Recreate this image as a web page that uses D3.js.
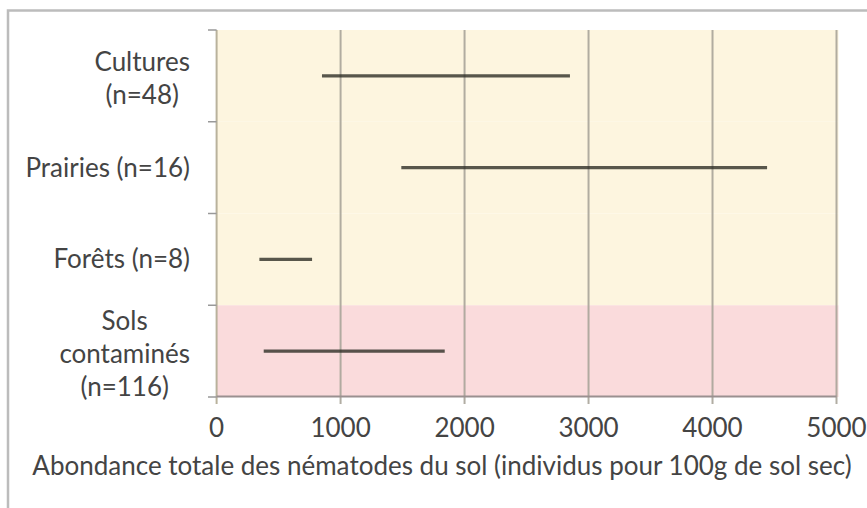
<!DOCTYPE html>
<html>
<head>
<meta charset="utf-8">
<style>
    body { margin: 0; background: #fff; }
    text { font-family: Lato, "Open Sans", sans-serif; fill: #444; font-size: 26px; }
</style>
</head>
<body>
<svg width="867" height="508"></svg>
<script src="https://d3js.org/d3.v7.min.js"></script>
<script>
    // data
    var categories = [["Cultures", "(n=48)"], ["Prairies (n=16)"], ["Forêts (n=8)"], ["Sols", "contaminés", "(n=116)"]];
    var rangeMin = [850, 1490, 345, 380];
    var rangeMax = [2850, 4440, 770, 1840];
    var xTicks = [0, 1000, 2000, 3000, 4000, 5000];
    var bandColors = ["#fdf5df", "#fdf5df", "#fdf5df", "#fadbdc"];
    var xTitle = "Abondance totale des nématodes du sol (individus pour 100g de sol sec)";

    var svg = d3.select('svg');

    var x = d3.scaleLinear().domain([0, 5000]).range([216.6, 836.5]);
    var y = d3.scaleBand().domain(d3.range(categories.length)).range([30, 397]);

    // outer frame (cropped on the right and bottom)
    svg.append('path')
        .attr('d', 'M8,508 L8,10.5 L867,10.5')
        .attr('fill', 'none')
        .attr('stroke', '#bcbcbc')
        .attr('stroke-width', 2.5);

    // coloured bands
    svg.selectAll('rect.band').data(categories).enter().append('rect')
        .attr('class', 'band')
        .attr('x', x(0))
        .attr('width', x(5000) - x(0) + 2)
        .attr('y', function (d, i) { return y(i); })
        .attr('height', y.bandwidth())
        .attr('fill', function (d, i) { return bandColors[i]; });

    // vertical gridlines (and x tick marks)
    svg.selectAll('line.grid').data(xTicks.slice(1)).enter().append('line')
        .attr('class', 'grid')
        .attr('x1', function (d) { return x(d); })
        .attr('x2', function (d) { return x(d); })
        .attr('y1', 30)
        .attr('y2', 404)
        .attr('stroke', '#a9a499')
        .attr('stroke-opacity', 0.9)
        .attr('stroke-width', 2);

    // left axis + ticks
    svg.append('line')
        .attr('x1', x(0)).attr('x2', x(0))
        .attr('y1', 30).attr('y2', 404)
        .attr('stroke', '#b9b29c').attr('stroke-width', 2);
    var yEdges = d3.range(categories.length + 1).map(function (i) { return 30 + i * y.bandwidth(); });
    svg.selectAll('line.ytick').data(yEdges).enter().append('line')
        .attr('class', 'ytick')
        .attr('x1', 208).attr('x2', x(0))
        .attr('y1', function (d) { return d; }).attr('y2', function (d) { return d; })
        .attr('stroke', '#999').attr('stroke-width', 1.5);

    // bottom axis line
    svg.append('line')
        .attr('x1', x(0)).attr('x2', x(5000))
        .attr('y1', 396.5).attr('y2', 396.5)
        .attr('stroke', '#9a9090').attr('stroke-width', 2);

    // range bars
    svg.selectAll('line.bar').data(categories).enter().append('line')
        .attr('class', 'bar')
        .attr('x1', function (d, i) { return x(rangeMin[i]); })
        .attr('x2', function (d, i) { return x(rangeMax[i]); })
        .attr('y1', function (d, i) { return y(i) + y.bandwidth() / 2; })
        .attr('y2', function (d, i) { return y(i) + y.bandwidth() / 2; })
        .attr('stroke', '#2e2e26')
        .attr('stroke-opacity', 0.8)
        .attr('stroke-width', 3.2);

    // x tick labels
    svg.selectAll('text.xtick').data(xTicks).enter().append('text')
        .attr('class', 'xtick')
        .attr('x', function (d) { return x(d); })
        .attr('y', 428)
        .attr('dy', '0.35em')
        .attr('text-anchor', 'middle')
        .text(function (d) { return d; });

    // x axis title
    svg.append('text')
        .attr('x', 442)
        .attr('y', 466)
        .attr('dy', '0.35em')
        .attr('text-anchor', 'middle')
        .text(xTitle);

    // category labels, each line centred on the widest one, block right-aligned
    var lineH = 33;
    categories.forEach(function (lines, i) {
        var g = svg.append('g');
        var cy = y(i) + y.bandwidth() / 2 + (lines.length > 1 ? 3 : 0);
        var texts = lines.map(function (s, k) {
            return g.append('text')
                .attr('y', cy + (k - (lines.length - 1) / 2) * lineH)
                .attr('dy', '0.35em')
                .attr('text-anchor', 'middle')
                .text(s);
        });
        var w = d3.max(texts, function (t) { return t.node().getComputedTextLength(); });
        texts.forEach(function (t) { t.attr('x', 190 - w / 2); });
    });
</script>
</body>
</html>
